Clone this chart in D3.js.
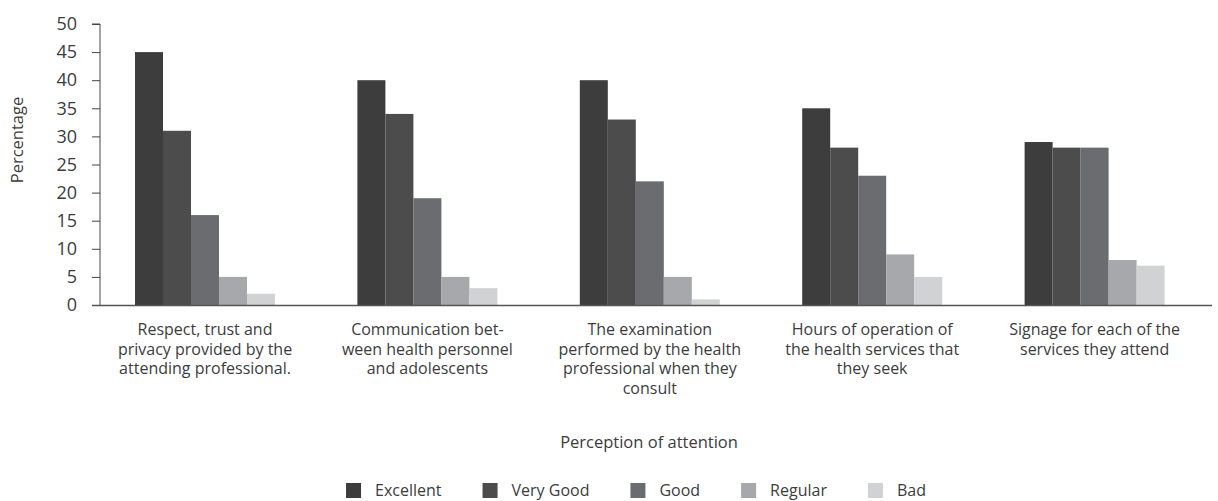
<!DOCTYPE html>
<head>
  <title>Perception of attention</title>
  <style>
    body { margin: 0; background: #fff; }
    text { font-family: "Open Sans", sans-serif; fill: #3c3c3c; }
  </style>
</head>
<body>
  <script src="https://cdn.jsdelivr.net/npm/d3@7/dist/d3.min.js"></script>
  <script>
    // data
    var categories = [
      ["Respect, trust and", "privacy provided by the", "attending professional."],
      ["Communication bet-", "ween health personnel", "and adolescents"],
      ["The examination", "performed by the health", "professional when they", "consult"],
      ["Hours of operation of", "the health services that", "they seek"],
      ["Signage for each of the", "services they attend"]
    ];
    var series = ["Excellent", "Very Good", "Good", "Regular", "Bad"];
    var excellent = [45, 40, 40, 35, 29];
    var veryGood  = [31, 34, 33, 28, 28];
    var good      = [16, 19, 22, 23, 28];
    var regular   = [5, 5, 5, 9, 8];
    var bad       = [2, 3, 1, 5, 7];
    var yTicks = [0, 5, 10, 15, 20, 25, 30, 35, 40, 45, 50];
    var colors = ["#3d3d3d", "#4c4c4c", "#6b6c70", "#a7a8ab", "#d1d2d4"];

    var values = [excellent, veryGood, good, regular, bad];

    // plot area (pixels)
    var W = 1218, H = 501;
    var plotLeft = 100, plotRight = 1212, plotTop = 24, plotBottom = 305;

    var svg = d3.select("body").append("svg")
        .attr("width", W)
        .attr("height", H);

    var groupIds = categories.map(function(d, i) { return i; });
    var x0 = d3.scaleBand().domain(groupIds).range([plotLeft, plotRight]);
    var x1 = d3.scaleBand().domain(series).range([35, 175]);
    var y = d3.scaleLinear().domain([0, 50]).range([plotBottom, plotTop]);

    // bars
    var groups = svg.selectAll(".grp").data(groupIds).enter().append("g")
        .attr("class", "grp")
        .attr("transform", function(i) { return "translate(" + x0(i) + ",0)"; });

    groups.selectAll("rect")
        .data(function(i) { return series.map(function(s, k) { return {s: s, k: k, v: values[k][i]}; }); })
        .enter().append("rect")
        .attr("x", function(d) { return x1(d.s); })
        .attr("y", function(d) { return y(d.v); })
        .attr("width", x1.bandwidth())
        .attr("height", function(d) { return plotBottom - y(d.v); })
        .attr("fill", function(d) { return colors[d.k]; });

    // y axis
    var yAxis = svg.append("g").attr("transform", "translate(" + plotLeft + ",0)")
        .call(d3.axisLeft(y).tickValues(yTicks).tickSize(8).tickPadding(15));
    yAxis.select(".domain").attr("stroke", "#444").attr("d", "M-8," + plotTop + "H0V" + plotBottom);
    yAxis.selectAll(".tick line").attr("stroke", "#444");
    yAxis.selectAll(".tick text")
        .style("font-family", "'Open Sans', sans-serif")
        .style("font-size", "18px")
        .attr("fill", "#3c3c3c");

    // x axis baseline
    svg.append("line")
        .attr("x1", plotLeft - 8).attr("x2", plotRight)
        .attr("y1", plotBottom + 0.5).attr("y2", plotBottom + 0.5)
        .attr("stroke", "#555").attr("stroke-width", 1.5);

    // category labels
    var mid = (x1.range()[0] + x1.range()[1]) / 2;
    groups.append("text")
        .attr("text-anchor", "middle")
        .style("font-size", "16px")
        .attr("x", mid)
        .attr("y", 335)
        .selectAll("tspan")
        .data(function(i) { return categories[i]; })
        .enter().append("tspan")
        .attr("x", mid)
        .attr("dy", function(d, j) { return j === 0 ? 0 : 19.5; })
        .text(function(d) { return d; });

    // axis titles
    svg.append("text")
        .attr("x", 649).attr("y", 448)
        .attr("text-anchor", "middle")
        .style("font-size", "16.5px")
        .text("Perception of attention");

    svg.append("text")
        .attr("transform", "translate(23,140) rotate(-90)")
        .attr("text-anchor", "middle")
        .style("font-size", "16.5px")
        .text("Percentage");

    // legend
    var legend = svg.append("g");
    var lx = 0;
    series.forEach(function(s, k) {
      var item = legend.append("g").attr("transform", "translate(" + lx + ",0)");
      item.append("rect").attr("x", 0).attr("y", -13).attr("width", 15).attr("height", 15)
          .attr("fill", colors[k]);
      var t = item.append("text").attr("x", 29).attr("y", 0)
          .style("font-size", "16px").text(s);
      lx += 29 + t.node().getComputedTextLength() + 41;
    });
    lx -= 41;
    legend.attr("transform", "translate(" + (636 - lx / 2) + ",496)");
  </script>
</body>
